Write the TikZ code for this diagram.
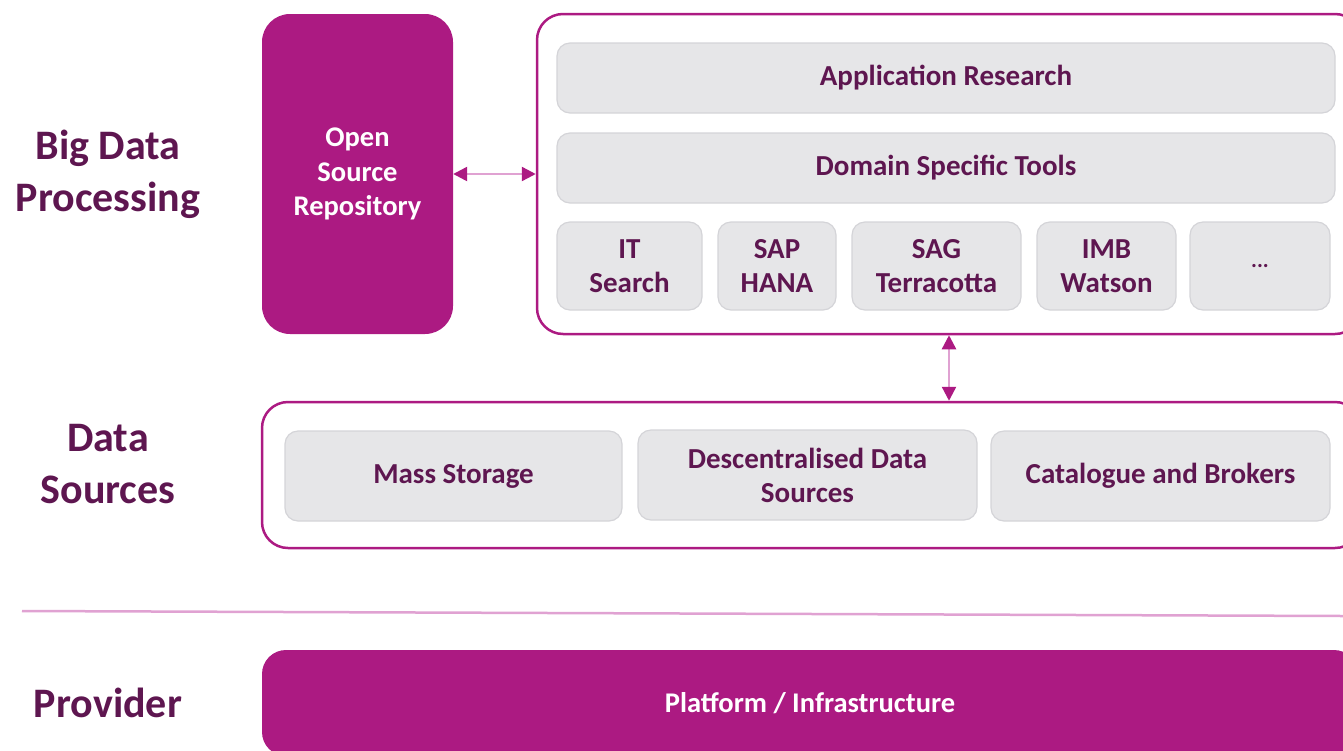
\documentclass[tikz,border=0pt]{standalone}
\usepackage{fontspec}
\setmainfont{Carlito}
\usetikzlibrary{positioning, calc, arrows.meta}
\definecolor{magen}{RGB}{172,26,130}
\definecolor{deeppurple}{RGB}{94,22,80}
\definecolor{boxgray}{RGB}{230,230,232}
\definecolor{edgegray}{RGB}{212,212,216}
\definecolor{pinkline}{RGB}{224,162,210}

\begin{document}
\begin{tikzpicture}[x=1pt, y=-1pt,
    layer/.style={text=deeppurple, align=center, font=\fontsize{42}{52}\selectfont\bfseries},
    frame/.style={draw=magen, line width=2.5pt, rounded corners=26pt, inner sep=0pt},
    solid box/.style={fill=magen, rounded corners=28pt, text=white, align=center, inner sep=0pt,
        font=\fontsize{28.5}{34.5}\selectfont\bfseries},
    item/.style={fill=boxgray, draw=edgegray, line width=1.2pt, rounded corners=13pt, inner sep=0pt,
        text=deeppurple, align=center, font=\fontsize{29}{34}\selectfont\bfseries},
    link/.style={draw=pinkline, line width=2.4pt, {Triangle[length=14pt,width=14pt,color=magen]}-{Triangle[length=14pt,width=14pt,color=magen]}}]
                \useasboundingbox (0,0) rectangle (1343,750);
                \clip (0,0) rectangle (1343,750);
                % layer names
                \node[layer] (bigdata) at (108,174) {Big Data\\Processing};
                \node[layer] (datasrc) at (108,464) {Data\\Sources};
                \node[layer] (provider) at (108,703) {Provider};
                % processing
                \node[solid box, minimum width=191pt, minimum height=320pt] (repo) at (357.5,174) {Open\\Source\\Repository};
                \node[frame, minimum width=824pt, minimum height=320pt] (tools) at (949,174) {};
                \node[item, minimum width=778pt, minimum height=70pt] (appres) at (946,78) {Application Research};
                \node[item, minimum width=778pt, minimum height=70pt] (domain) at (946,168) {Domain Specific Tools};
                \node[item, minimum width=145pt, minimum height=88pt] (itsearch) at (629.5,266) {IT\\Search};
                \node[item, minimum width=118pt, minimum height=88pt] (hana) at (777,266) {SAP\\HANA};
                \node[item, minimum width=169pt, minimum height=88pt] (terra) at (936.5,266) {SAG\\Terracotta};
                \node[item, minimum width=139pt, minimum height=88pt] (watson) at (1106.5,266) {IMB\\Watson};
                \node[item, minimum width=140pt, minimum height=88pt, font=\fontsize{22}{26}\selectfont\bfseries] (more) at (1260,266) {...};
                % sources
                \node[frame, minimum width=1099pt, minimum height=146pt] (sources) at (811.5,475) {};
                \node[item, minimum width=337pt, minimum height=90pt] (mass) at (453.5,476) {Mass Storage};
                \node[item, minimum width=339pt, minimum height=90pt] (decent) at (807.5,475) {Descentralised Data\\Sources};
                \node[item, minimum width=339pt, minimum height=90pt] (catalog) at (1160.5,476) {Catalogue and Brokers};
                % provider
                \coordinate (sepL) at (22,611);
                \coordinate (sepR) at (1343,616);
                \draw[pinkline, line width=2.5pt] (sepL) -- (sepR);
                \node[solid box, rounded corners=24pt, minimum width=1096pt, minimum height=106pt] (platform) at (810,703) {Platform / Infrastructure};
                \draw[link] (repo.east) -- (tools.west);
                \draw[link] (tools.south) -- (tools.south |- sources.north);
            \end{tikzpicture}
\end{document}
